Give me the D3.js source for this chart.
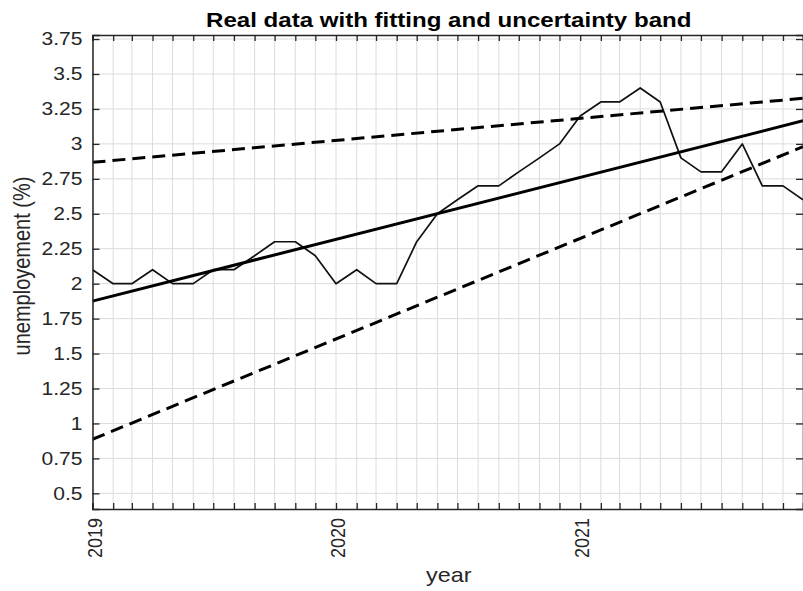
<!DOCTYPE html>
<html>
<head>
<meta charset="utf-8">
<script src="https://cdn.jsdelivr.net/npm/d3@7"></script>
<style>
  html, body { margin: 0; padding: 0; background: #fff; }
  svg { display: block; }
  text { font-family: "Liberation Sans", Arial, Helvetica, sans-serif; }
</style>
</head>
<body>
<svg id="chart" width="803" height="591"></svg>
<script>
// ---- data ----
const startMonth = "2019-01";
const unemployment = [
  2.1, 2.0, 2.0, 2.1, 2.0, 2.0, 2.1, 2.1, 2.2, 2.3, 2.3, 2.2,
  2.0, 2.1, 2.0, 2.0, 2.3, 2.5, 2.6, 2.7, 2.7, 2.8, 2.9, 3.0,
  3.2, 3.3, 3.3, 3.4, 3.3, 2.9, 2.8, 2.8, 3.0, 2.7, 2.7, 2.6
];
const fitEnds = [1.875, 3.165];
const upperEnds = [2.868, 3.326];
const lowerEnds = [0.887, 2.98];
const yTicks = [0.5, 0.75, 1, 1.25, 1.5, 1.75, 2, 2.25, 2.5, 2.75, 3, 3.25, 3.5, 3.75];
const yDomain = [0.388, 3.779];
const yearTicks = [2019, 2020, 2021];
const titleText = "Real data with fitting and uncertainty band";
const xLabel = "year";
const yLabel = "unemployement (%)";

(function draw() {
  const parse = d3.timeParse("%Y-%m");
  const t0 = parse(startMonth);
  const dates = unemployment.map((_, i) => d3.timeMonth.offset(t0, i));
  const tEnd = dates[dates.length - 1];

  const svg = d3.select("#chart");
  const mLeft = 92.5, mRight = 803, mTop = 35, mBottom = 509;
  const sx = 1.17; // horizontal glyph stretch seen in the reference

  const x = d3.scaleTime().domain([t0, tEnd]).range([mLeft, mRight]);
  const y = d3.scaleLinear().domain(yDomain).range([mBottom, mTop]);

  const monthTicks = d3.timeMonth.range(t0, d3.timeMonth.offset(tEnd, 1));
  const axisColor = "#262626";

  // grid
  const grid = svg.append("g");
  grid.selectAll("line.v").data(monthTicks).join("line").attr("class", "v")
    .attr("x1", d => x(d)).attr("x2", d => x(d))
    .attr("y1", mTop).attr("y2", mBottom)
    .attr("stroke", "#dcdcdc").attr("stroke-width", 1);
  grid.selectAll("line.h").data(yTicks).join("line").attr("class", "h")
    .attr("x1", mLeft).attr("x2", mRight)
    .attr("y1", d => y(d)).attr("y2", d => y(d))
    .attr("stroke", "#dcdcdc").attr("stroke-width", 1);

  // clip
  svg.append("clipPath").attr("id", "clip").append("rect")
    .attr("x", mLeft).attr("y", mTop).attr("width", mRight - mLeft).attr("height", mBottom - mTop);
  const plot = svg.append("g").attr("clip-path", "url(#clip)");

  const line = d3.line().x((d, i) => x(dates[i])).y(d => y(d));
  plot.append("path").datum(unemployment).attr("d", line)
    .attr("fill", "none").attr("stroke", "#111").attr("stroke-width", 1.7)
    .attr("stroke-linejoin", "round");

  const endLine = d3.line().x((d, i) => x(i === 0 ? t0 : tEnd)).y(d => y(d));
  plot.append("path").datum(upperEnds).attr("d", endLine)
    .attr("fill", "none").attr("stroke", "#000").attr("stroke-width", 3)
    .attr("stroke-dasharray", "13,7");
  plot.append("path").datum(lowerEnds).attr("d", endLine)
    .attr("fill", "none").attr("stroke", "#000").attr("stroke-width", 3)
    .attr("stroke-dasharray", "13,7");
  plot.append("path").datum(fitEnds).attr("d", endLine)
    .attr("fill", "none").attr("stroke", "#000").attr("stroke-width", 3);

  // axes (MATLAB-style, inward ticks)
  const tickFont = 18;
  const gxb = svg.append("g").attr("transform", `translate(0,${mBottom})`)
    .call(d3.axisBottom(x).tickValues(monthTicks).tickSize(-6).tickFormat(""));
  const gxt = svg.append("g").attr("transform", `translate(0,${mTop})`)
    .call(d3.axisTop(x).tickValues(monthTicks).tickSize(-6).tickFormat(""));
  const gyl = svg.append("g").attr("transform", `translate(${mLeft},0)`)
    .call(d3.axisLeft(y).tickValues(yTicks).tickSize(-7).tickFormat(d => String(d)));
  const gyr = svg.append("g").attr("transform", `translate(${mRight},0)`)
    .call(d3.axisRight(y).tickValues(yTicks).tickSize(-7).tickFormat(""));

  [gxb, gxt, gyl, gyr].forEach(g => {
    g.select(".domain").attr("stroke", axisColor).attr("stroke-width", 1.5);
    g.selectAll(".tick line").attr("stroke", axisColor).attr("stroke-width", 1.3);
  });
  gyl.selectAll(".tick text")
    .attr("x", 0)
    .attr("transform", `translate(-10,0) scale(${sx},1)`)
    .attr("font-size", tickFont).attr("fill", axisColor)
    .attr("font-family", "Liberation Sans, Arial, sans-serif");

  // year labels, rotated
  const yearDates = yearTicks.map(yr => new Date(yr, 0, 1));
  svg.append("g").selectAll("text").data(yearDates).join("text")
    .attr("transform", d => `translate(${x(d) + 9},${mBottom + 9}) scale(${sx},1) rotate(-90)`)
    .attr("text-anchor", "end")
    .attr("font-size", tickFont).attr("fill", axisColor)
    .text(d => d3.timeFormat("%Y")(d));

  // title & labels
  const cx = (mLeft + mRight) / 2 + 1;
  svg.append("text").attr("transform", `translate(${cx},27) scale(${sx * 0.98},1)`)
    .attr("text-anchor", "middle").attr("font-size", 21).attr("font-weight", "bold")
    .attr("fill", "#000").text(titleText);
  svg.append("text").attr("transform", `translate(${cx},582) scale(${sx},1)`)
    .attr("text-anchor", "middle").attr("font-size", 20).attr("fill", axisColor)
    .text(xLabel);
  svg.append("text").attr("transform", `translate(30,${(mTop + mBottom) / 2 - 6}) scale(${sx},1) rotate(-90)`)
    .attr("text-anchor", "middle").attr("font-size", 20).attr("fill", axisColor)
    .text(yLabel);
})();
</script>
</body>
</html>
